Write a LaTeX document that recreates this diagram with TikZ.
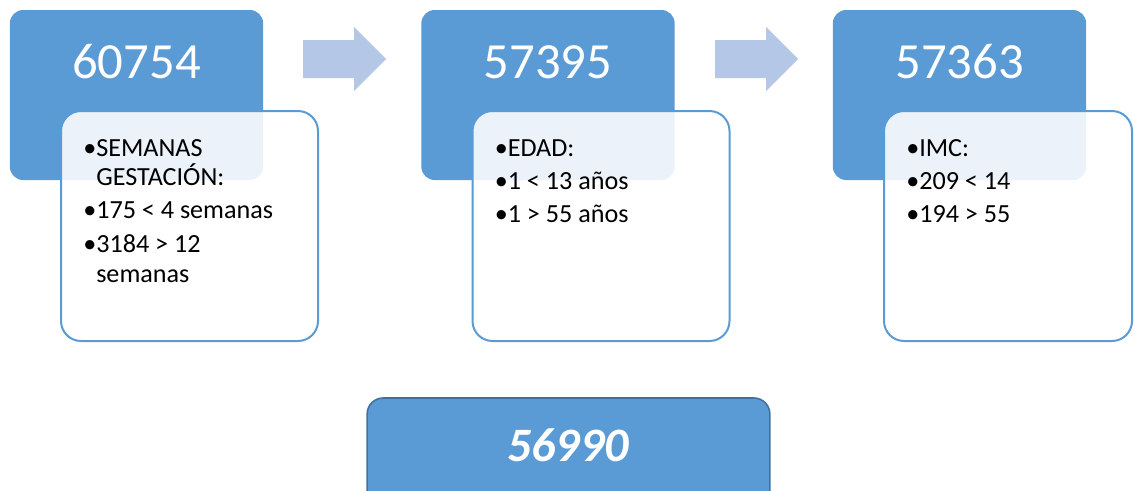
\documentclass[tikz,border=0pt]{standalone}
\usepackage{fontspec}
\setmainfont{Carlito}
\definecolor{acc}{HTML}{5B9BD5}
\definecolor{arr}{HTML}{B4C7E7}
\definecolor{dark}{HTML}{41719C}
\begin{document}
\begin{tikzpicture}[x=0.75pt,y=-0.75pt,
  bluebox/.style={fill=acc,draw=none,rounded corners=10pt,minimum width=190pt,minimum height=127.5pt,inner sep=0pt},
  whitebox/.style={fill=white,fill opacity=0.88,draw=acc,line width=1.5pt,rounded corners=15pt,inner sep=0pt,minimum height=172.5pt},
  bignum/.style={text=white,font=\fontsize{38}{42}\selectfont,inner sep=0pt,anchor=base},
  item/.style={text=black,font=\fontsize{19.6}{23}\selectfont,inner sep=0pt,anchor=base west,text opacity=1},
  blockarrow/.style={fill=arr,draw=none},
  resultbox/.style={fill=acc,draw=dark,line width=1.2pt,rounded corners=12pt,minimum width=302pt,minimum height=90pt,inner sep=0pt}]
\useasboundingbox (0,0) rectangle (1134,490);
% group 1
\node[bluebox] (b1) at (136.5,95) {};
\node[bignum] (n1) at (136.5,78) {60754};
\node[whitebox,minimum width=192.75pt] (w1) at (189.5,226) {};
\node[item] (t11) at (83,156) {•SEMANAS};
\node[item] (t12) at (96,185) {GESTACIÓN:};
\node[item] (t13) at (83,218) {•175 < 4 semanas};
\node[item] (t14) at (83,252) {•3184 > 12};
\node[item] (t15) at (96,282) {semanas};
% arrow 1
\fill[blockarrow] (303,40) -- (354,40) -- (354,27) -- (386,59) -- (354,91) -- (354,78) -- (303,78) -- cycle;
% group 2
\node[bluebox] (b2) at (548,95) {};
\node[bignum] (n2) at (548,78) {57395};
\node[whitebox,minimum width=192.75pt] (w2) at (601,226) {};
\node[item] (t21) at (494.5,156) {•EDAD:};
\node[item] (t22) at (494.5,189) {•1 < 13 años};
\node[item] (t23) at (494.5,222) {•1 > 55 años};
% arrow 2
\fill[blockarrow] (715,40) -- (766,40) -- (766,27) -- (798,59) -- (766,91) -- (766,78) -- (715,78) -- cycle;
% group 3
\node[bluebox] (b3) at (959.5,95) {};
\node[bignum] (n3) at (959.5,78) {57363};
\node[whitebox,minimum width=186pt] (w3) at (1008,226) {};
\node[item] (t31) at (906,156) {•IMC:};
\node[item] (t32) at (906,189) {•209 < 14};
\node[item] (t33) at (906,222) {•194 > 55};
% result
\node[resultbox] (r) at (568.5,458) {};
\node[text=white,font=\fontsize{36}{40}\selectfont\bfseries\itshape,inner sep=0pt,anchor=base] (rt) at (568,461) {56990};
\end{tikzpicture}
\end{document}
